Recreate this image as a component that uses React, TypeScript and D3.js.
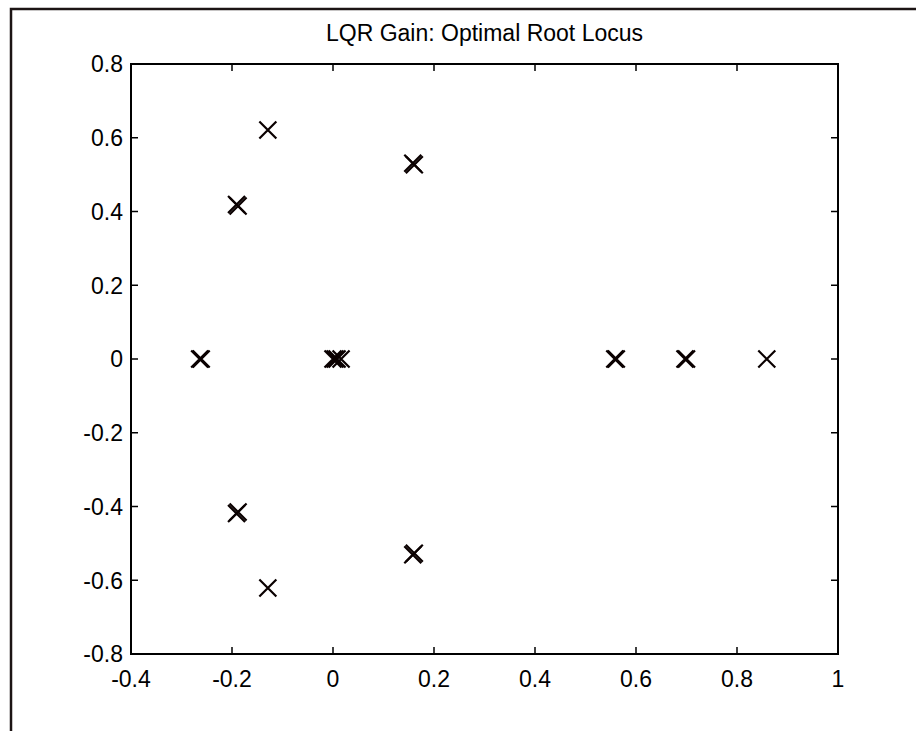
import React from "react";
import * as d3 from "d3";

// Closed-loop pole locations for two LQR weightings (real, imaginary parts)
const polesARe = [-0.261, 0.0, 0.008, 0.558, 0.697, 0.859, -0.129, -0.129, -0.191, -0.191, 0.158, 0.158];
const polesAIm = [0, 0, 0, 0, 0, 0, 0.621, -0.621, 0.419, -0.419, 0.531, -0.531];
const polesBRe = [-0.264, 0.004, 0.016, 0.561, 0.7, -0.188, -0.188, 0.161, 0.161];
const polesBIm = [0, 0, 0, 0, 0, 0.415, -0.415, 0.527, -0.527];

const xTicks = [-0.4, -0.2, 0, 0.2, 0.4, 0.6, 0.8, 1];
const yTicks = [-0.8, -0.6, -0.4, -0.2, 0, 0.2, 0.4, 0.6, 0.8];
const title = "LQR Gain: Optimal Root Locus";

const W = 916;
const H = 731;
const left = 131;
const right = 838;
const top = 64;
const bottom = 654;
const font = "'Liberation Sans', Arial, sans-serif";
const fs = 23;

export default function App() {
  const x = d3.scaleLinear().domain([-0.4, 1]).range([left, right]);
  const y = d3.scaleLinear().domain([-0.8, 0.8]).range([bottom, top]);
  const tickLen = 7;
  const m = 8.5; // marker half-size

  const points = [
    ...polesARe.map((re, i) => ({ re, im: polesAIm[i] })),
    ...polesBRe.map((re, i) => ({ re, im: polesBIm[i] })),
  ];

  const fmt = (v: number) => String(+v.toFixed(1));

  return (
    <svg
      width={W}
      height={H}
      style={{ position: "absolute", left: 0, top: 0, background: "#fff" }}
    >
      <rect x={0} y={0} width={W} height={H} fill="#fff" />
      {/* window frame */}
      <path d={`M11,${H} V9 H${W}`} fill="none" stroke="#1c1414" strokeWidth={2.5} />

      {/* title */}
      <text
        x={(left + right) / 2}
        y={41}
        textAnchor="middle"
        fontFamily={font}
        fontSize={fs}
        fill="#000"
      >
        {title}
      </text>

      {/* ticks on all four sides */}
      {xTicks.map((t) => (
        <g key={"xt" + t}>
          <line x1={x(t)} x2={x(t)} y1={bottom} y2={bottom - tickLen} stroke="#000" strokeWidth={1.5} />
          <line x1={x(t)} x2={x(t)} y1={top} y2={top + tickLen} stroke="#000" strokeWidth={1.5} />
          <text
            x={x(t)}
            y={687}
            textAnchor="middle"
            fontFamily={font}
            fontSize={fs}
            fill="#000"
          >
            {fmt(t)}
          </text>
        </g>
      ))}
      {yTicks.map((t) => (
        <g key={"yt" + t}>
          <line x1={left} x2={left + tickLen} y1={y(t)} y2={y(t)} stroke="#000" strokeWidth={1.5} />
          <line x1={right} x2={right - tickLen} y1={y(t)} y2={y(t)} stroke="#000" strokeWidth={1.5} />
          <text
            x={123}
            y={y(t)}
            dy="0.36em"
            textAnchor="end"
            fontFamily={font}
            fontSize={fs}
            fill="#000"
          >
            {fmt(t)}
          </text>
        </g>
      ))}

      {/* axes box */}
      <rect
        x={left}
        y={top}
        width={right - left}
        height={bottom - top}
        fill="none"
        stroke="#000"
        strokeWidth={2}
      />

      {/* pole markers */}
      {points.map((p, i) => {
        const cx = x(p.re);
        const cy = y(p.im);
        return (
          <path
            key={i}
            d={`M${cx - m},${cy - m}L${cx + m},${cy + m}M${cx - m},${cy + m}L${cx + m},${cy - m}`}
            stroke="#0a0000"
            strokeWidth={2.2}
            fill="none"
          />
        );
      })}
    </svg>
  );
}
